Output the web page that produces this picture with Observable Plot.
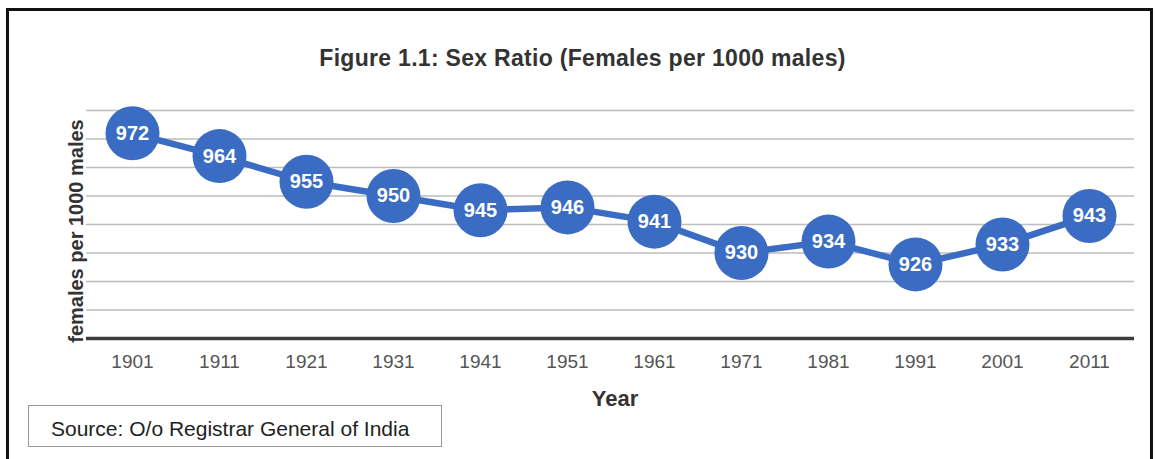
<!DOCTYPE html>
<html><head><meta charset="utf-8">
<script src="https://cdn.jsdelivr.net/npm/d3@7"></script>
<script src="https://cdn.jsdelivr.net/npm/@observablehq/plot@0.6"></script>
<style>
body{margin:0;background:#fff;font-family:"Liberation Sans",Arial,sans-serif;}
#wrap{position:relative;width:1157px;height:459px;overflow:hidden;background:#fff;}
#chart{position:absolute;left:0;top:85px;}
#frame{position:absolute;left:6px;top:8px;width:1141px;height:480px;border:3px solid #111;}
#title{position:absolute;left:0;width:1165px;top:47px;line-height:1;text-align:center;font-weight:bold;font-size:23px;color:#333;letter-spacing:0.3px;white-space:nowrap;}
#ylab{position:absolute;left:76px;top:231px;line-height:1;transform:translate(-50%,-50%) rotate(-90deg);font-weight:bold;font-size:20px;color:#333;white-space:nowrap;}
#xlab{position:absolute;left:615px;top:388px;line-height:1;transform:translateX(-50%);font-weight:bold;font-size:22px;color:#333;}
#srcbox{position:absolute;left:28px;top:405px;width:414px;height:42px;border:1.5px solid #9a9a9a;box-sizing:border-box;}
#srctext{position:absolute;left:51px;top:418px;line-height:1;font-size:21px;color:#222;white-space:nowrap;}
</style>
</head><body>
<div id="wrap">
  <div id="chart"></div>
  <div id="frame"></div>
  <div id="title">Figure 1.1: Sex Ratio (Females per 1000 males)</div>
  <div id="ylab">females per 1000 males</div>
  <div id="xlab">Year</div>
  <div id="srcbox"></div>
  <div id="srctext">Source: O/o Registrar General of India</div>
</div>
<script>
const years = ["1901","1911","1921","1931","1941","1951","1961","1971","1981","1991","2001","2011"];
const ratios = [972, 964, 955, 950, 945, 946, 941, 930, 934, 926, 933, 943];
const gridValues = [910, 920, 930, 940, 950, 960, 970, 980];
const baseValue = [900];

const data = years.map((y, i) => ({year: y, value: ratios[i]}));
const blue = "#3a6cc3";

const chart = Plot.plot({
  width: 1157,
  height: 300,
  marginTop: 25,
  marginBottom: 47,
  marginLeft: 86,
  marginRight: 23,
  style: {fontFamily: "Liberation Sans, Arial, sans-serif", background: "transparent"},
  x: {type: "point", domain: years, padding: 0.47, label: null},
  y: {domain: [900, 980], axis: null},
  marks: [
    Plot.ruleY(gridValues, {stroke: "#bdbdbd", strokeWidth: 1.5}),
    Plot.ruleY(baseValue, {stroke: "#3c3c3c", strokeWidth: 3.5}),
    Plot.axisX({tickSize: 0, tickPadding: 16, fontSize: 19, fill: "#555", label: null}),
    Plot.line(data, {x: "year", y: "value", stroke: blue, strokeWidth: 6.5}),
    Plot.dot(data, {x: "year", y: "value", r: 27, fill: blue, stroke: "none"}),
    Plot.text(data, {x: "year", y: "value", text: d => String(d.value), fill: "white", fontWeight: "bold", fontSize: 20})
  ]
});
document.getElementById("chart").appendChild(chart);
</script>
</body></html>
